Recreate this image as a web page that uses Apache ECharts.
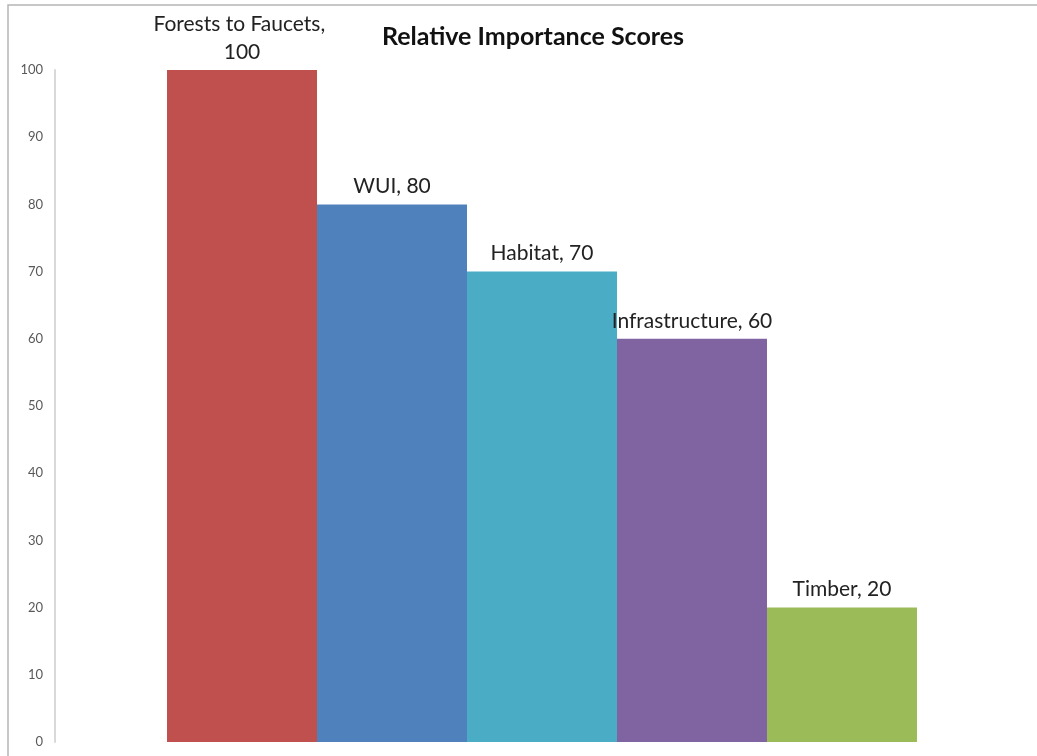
<!DOCTYPE html>
<html>
<head>
<meta charset="utf-8">
<style>
  html, body { margin: 0; padding: 0; background: #ffffff; }
  #chart { width: 1037px; height: 756px; }
</style>
<script src="https://cdn.jsdelivr.net/npm/echarts@6/dist/echarts.min.js"></script>
</head>
<body>
<div id="chart"></div>
<script>
// Score categories and their relative importance values
const categories = ['Forests to Faucets', 'WUI', 'Habitat', 'Infrastructure', 'Timber'];
const scores = [100, 80, 70, 60, 20];
const barColors = ['#C0504D', '#4F81BD', '#4BACC6', '#8064A2', '#9BBB59'];
const yTicks = { min: 0, max: 100, step: 10 };

const chart = echarts.init(document.getElementById('chart'));

const series = categories.map((name, i) => ({
  type: 'bar',
  name: name,
  data: [scores[i]],
  barGap: '0%',
  barCategoryGap: '23%',
  itemStyle: { color: barColors[i] },
  label: {
    show: true,
    position: 'top',
    distance: 4,
    color: '#222222',
    fontFamily: 'Lato',
    fontSize: 21,
    lineHeight: 28,
    width: 195,
    overflow: 'break',
    formatter: p => p.seriesName + ', ' + p.value
  }
}));

chart.setOption({
  animation: false,
  backgroundColor: '#ffffff',
  title: {
    text: 'Relative Importance Scores',
    left: 528,
    top: 19,
    textAlign: 'center',
    textStyle: { fontFamily: 'Lato', fontWeight: 'bold', fontSize: 25, color: '#111111' }
  },
  graphic: [{
    type: 'polyline',
    shape: { points: [[8, 760], [8, 5], [1040, 5]] },
    style: { stroke: '#b5b5b5', lineWidth: 1.5, fill: null }
  }],
  grid: { left: 55, right: 8, top: 70, bottom: 14 },
  xAxis: {
    type: 'category',
    data: [''],
    axisLine: { show: false },
    axisTick: { show: false },
    axisLabel: { show: false }
  },
  yAxis: {
    type: 'value',
    min: yTicks.min,
    max: yTicks.max,
    interval: yTicks.step,
    axisLine: { show: true, lineStyle: { color: '#d9d9d9', width: 2 } },
    axisTick: { show: false },
    splitLine: { show: false },
    axisLabel: { color: '#595959', fontFamily: 'Lato', fontSize: 13, margin: 12 }
  },
  series: series
});
</script>
</body>
</html>
